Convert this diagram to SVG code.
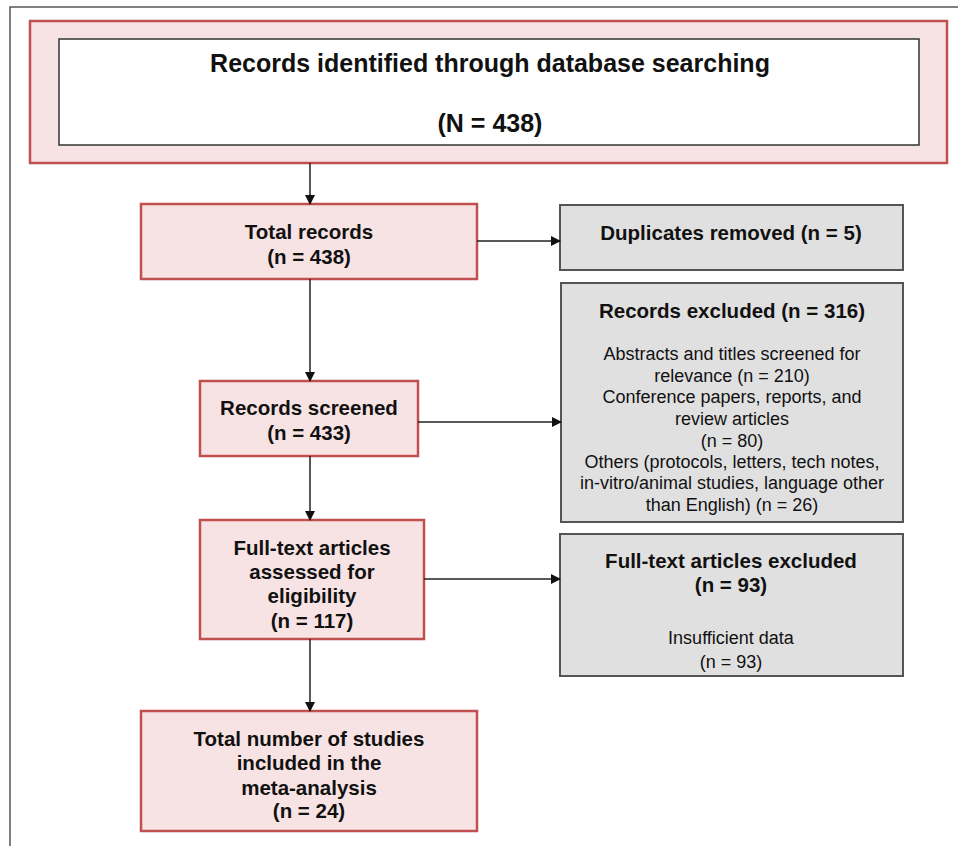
<svg xmlns="http://www.w3.org/2000/svg" width="958" height="846" viewBox="0 0 958 846">
<style>
.frame{stroke:#555;stroke-width:1.5;fill:none}
.pink{fill:#f7e3e3;stroke:#c0504d;stroke-width:2.5}
.gray{fill:#e0e0e0;stroke:#555;stroke-width:2}
.white{fill:#fff;stroke:#333;stroke-width:1.5}
text{font-family:"Liberation Sans",Arial,sans-serif;fill:#111;text-anchor:middle}
.b{font-weight:bold;font-size:20.5px}
.t{font-weight:bold;font-size:25px}
.r{font-size:18px}
.conn line{stroke:#222;stroke-width:1.5}
</style>
<defs>
<marker id="ah" markerWidth="10" markerHeight="10" refX="9" refY="5" orient="auto" markerUnits="userSpaceOnUse">
<path d="M0,0 L10,5 L0,10 z" fill="#111"/>
</marker>
</defs>
<rect width="958" height="846" fill="#fff"/>
<path class="frame" d="M10,846 V7 H958"/>
<g id="identified">
<rect class="pink" x="30" y="21" width="917" height="142"/>
<rect class="white" x="59" y="39" width="860" height="106"/>
<text class="t" x="490" y="72">Records identified through database searching</text>
<text class="t" x="490" y="132">(N = 438)</text>
</g>
<g id="total">
<rect class="pink" x="141" y="204" width="336" height="75"/>
<text class="b" x="309" y="239">Total records</text>
<text class="b" x="309" y="264">(n = 438)</text>
</g>
<g id="duplicates">
<rect class="gray" x="560" y="205" width="343" height="65"/>
<text class="b" x="731" y="240">Duplicates removed (n = 5)</text>
</g>
<g id="screened">
<rect class="pink" x="200" y="381" width="218" height="75"/>
<text class="b" x="309" y="415">Records screened</text>
<text class="b" x="309" y="440">(n = 433)</text>
</g>
<g id="excluded">
<rect class="gray" x="561" y="283" width="342" height="239"/>
<text class="b" x="732" y="318">Records excluded (n = 316)</text>
<text class="r" x="732" y="360">Abstracts and titles screened for</text>
<text class="r" x="732" y="382">relevance (n = 210)</text>
<text class="r" x="732" y="403">Conference papers, reports, and</text>
<text class="r" x="732" y="425">review articles</text>
<text class="r" x="732" y="447">(n = 80)</text>
<text class="r" x="732" y="468">Others (protocols, letters, tech notes,</text>
<text class="r" x="732" y="489">in-vitro/animal studies, language other</text>
<text class="r" x="732" y="511">than English) (n = 26)</text>
</g>
<g id="fulltext">
<rect class="pink" x="200" y="520" width="224" height="119"/>
<text class="b" x="312" y="555">Full-text articles</text>
<text class="b" x="312" y="579">assessed for</text>
<text class="b" x="312" y="603">eligibility</text>
<text class="b" x="312" y="628">(n = 117)</text>
</g>
<g id="ftexcluded">
<rect class="gray" x="560" y="534" width="343" height="142"/>
<text class="b" x="731" y="568">Full-text articles excluded</text>
<text class="b" x="731" y="592">(n = 93)</text>
<text class="r" x="731" y="644">Insufficient data</text>
<text class="r" x="731" y="668">(n = 93)</text>
</g>
<g id="included">
<rect class="pink" x="141" y="711" width="336" height="120"/>
<text class="b" x="309" y="746">Total number of studies</text>
<text class="b" x="309" y="770">included in the</text>
<text class="b" x="309" y="795">meta-analysis</text>
<text class="b" x="309" y="818">(n = 24)</text>
</g>
<g class="conn">
<line x1="310" y1="163" x2="310" y2="204" marker-end="url(#ah)"/>
<line x1="477" y1="241" x2="560" y2="241" marker-end="url(#ah)"/>
<line x1="310" y1="279" x2="310" y2="381" marker-end="url(#ah)"/>
<line x1="418" y1="422" x2="561" y2="422" marker-end="url(#ah)"/>
<line x1="310" y1="456" x2="310" y2="520" marker-end="url(#ah)"/>
<line x1="424" y1="579" x2="560" y2="579" marker-end="url(#ah)"/>
<line x1="310" y1="639" x2="310" y2="711" marker-end="url(#ah)"/>
</g>
</svg>
